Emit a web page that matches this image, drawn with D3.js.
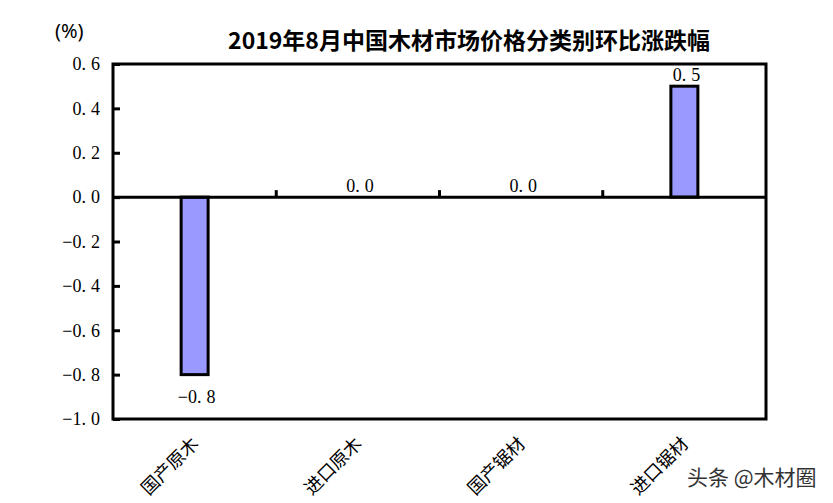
<!DOCTYPE html>
<html>
<head>
<meta charset="utf-8">
<script src="https://cdn.jsdelivr.net/npm/d3@7"></script>
<style>
  html, body { margin: 0; padding: 0; background: #fff; }
  svg { display: block; }
</style>
</head>
<body>
<script>
// ---- data ----
const categories = ["国产原木", "进口原木", "国产锯材", "进口锯材"];
const values = [-0.8, 0.0, 0.0, 0.5];
const yTicks = [0.6, 0.4, 0.2, 0.0, -0.2, -0.4, -0.6, -0.8, -1.0];
const titleText = "2019年8月中国木材市场价格分类别环比涨跌幅";
const unitText = "(%)";
const watermark = "头条 @木材圈";

// ---- layout ----
const W = 833, H = 503;
const plot = { left: 113, top: 64, right: 766, bottom: 419 };
const numFont = "'Liberation Serif', 'DejaVu Serif', serif";
const cjkFont = "'Noto Sans CJK SC', 'Noto Sans', sans-serif";
const dotGap = 5;

const svg = d3.select("body").append("svg").attr("width", W).attr("height", H);

const x = d3.scaleBand().domain(categories).range([plot.left, plot.right]).paddingInner(0).paddingOuter(0);
const y = d3.scaleLinear().domain([-1.0, 0.6]).range([plot.bottom, plot.top]);
const fmt = v => d3.format(".1f")(v);

// writes a number with a wider gap after the decimal point (as in the original font)
function setNumber(sel, v) {
  const s = fmt(v);
  const i = s.indexOf(".") + 1;
  sel.text(null);
  sel.append("tspan").text(s.slice(0, i));
  sel.append("tspan").attr("dx", dotGap).text(s.slice(i));
}

// title
svg.append("text")
  .attr("x", 469).attr("y", 49)
  .attr("text-anchor", "middle")
  .attr("font-family", cjkFont)
  .attr("font-weight", "bold")
  .attr("font-size", 23)
  .attr("fill", "#000")
  .text(titleText);

// unit
svg.append("text")
  .attr("x", 55).attr("y", 38)
  .attr("font-family", "'Noto Sans', sans-serif")
  .attr("font-size", 20)
  .attr("fill", "#000")
  .text(unitText);

// bars
const barW = 27;
svg.append("g").selectAll("rect")
  .data(categories.map((c, i) => ({ c, v: values[i] })))
  .join("rect")
  .attr("x", d => x(d.c) + x.bandwidth() / 2 - barW / 2)
  .attr("y", d => y(Math.max(0, d.v)))
  .attr("width", barW)
  .attr("height", d => Math.abs(y(d.v) - y(0)))
  .attr("fill", "#9999FF")
  .attr("stroke", "#000")
  .attr("stroke-width", 3)
  .attr("display", d => d.v === 0 ? "none" : null);

// y axis (ticks inward)
const yAxis = d3.axisLeft(y).tickValues(yTicks).tickSize(-7).tickPadding(13).tickFormat(fmt);
const gy = svg.append("g").attr("transform", `translate(${plot.left},0)`).call(yAxis);
gy.select(".domain").remove();
gy.selectAll(".tick line").attr("stroke", "#000").attr("stroke-width", 3);
gy.selectAll(".tick text")
  .attr("font-family", numFont).attr("font-size", 18).attr("fill", "#000")
  .each(function(d) { setNumber(d3.select(this), d); });

// x axis at zero (category boundary ticks, pointing up)
const boundaries = categories.slice(1).map(c => x(c));
svg.append("g").selectAll("line")
  .data(boundaries)
  .join("line")
  .attr("x1", d => d).attr("x2", d => d)
  .attr("y1", y(0)).attr("y2", y(0) - 7)
  .attr("stroke", "#000").attr("stroke-width", 3);
svg.append("line")
  .attr("x1", plot.left).attr("x2", plot.right)
  .attr("y1", y(0)).attr("y2", y(0))
  .attr("stroke", "#000").attr("stroke-width", 3);

// plot frame
svg.append("rect")
  .attr("x", plot.left).attr("y", plot.top)
  .attr("width", plot.right - plot.left).attr("height", plot.bottom - plot.top)
  .attr("fill", "none").attr("stroke", "#000").attr("stroke-width", 3);

// value labels
svg.append("g").selectAll("text")
  .data(categories.map((c, i) => ({ c, v: values[i] })))
  .join("text")
  .attr("x", d => x(d.c) + x.bandwidth() / 2 + 2)
  .attr("y", d => d.v < 0 ? y(d.v) + 28 : y(d.v) - 5)
  .attr("text-anchor", "middle")
  .attr("font-family", numFont).attr("font-size", 18).attr("fill", "#000")
  .each(function(d) { setNumber(d3.select(this), d.v); });

// category labels (rotated)
svg.append("g").selectAll("text")
  .data(categories)
  .join("text")
  .attr("transform", d => `translate(${x(d) + x.bandwidth() / 2 + 5},${plot.bottom + 26}) rotate(-45)`)
  .attr("text-anchor", "end")
  .attr("font-family", cjkFont).attr("font-size", 18).attr("fill", "#000")
  .text(d => d);

// watermark
svg.append("text")
  .attr("x", 687).attr("y", 485)
  .attr("font-family", cjkFont).attr("font-size", 21).attr("fill", "#333")
  .text(watermark);
</script>
</body>
</html>
